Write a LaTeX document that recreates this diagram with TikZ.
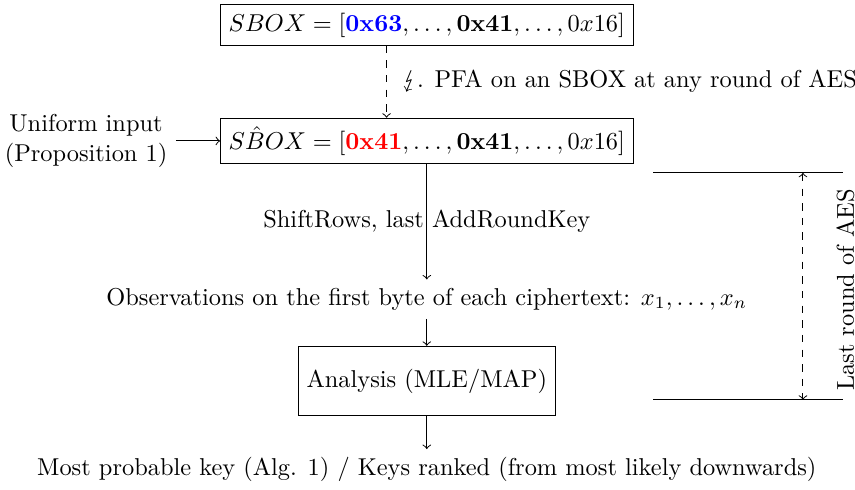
\documentclass[tikz,border=0pt]{standalone}
\usepackage{stmaryrd}
\usepackage{tikz}

\begin{document}
\begin{tikzpicture}
            \useasboundingbox (0,0) rectangle (12.32,-7.06);
            \node [draw] (sbox) at (6.15,-0.36) {$SBOX = [\textcolor{blue}{\mathbf{0x63}}, \ldots, \mathbf{0x41}, \ldots, 0x16]$};
            \node [draw] (hat) at (6.15,-2.03) {$S\hat{B}OX = [\textcolor{red}{\mathbf{0x41}}, \ldots, \mathbf{0x41}, \ldots, 0x16]$};
            \node [align=center] (input) at (1.24,-2.03) {Uniform input\\(Proposition 1)};
            \node (obs) at (6.15,-4.31) {Observations on the first byte of each ciphertext: $x_1, \ldots, x_n$};
            \node [draw, minimum height=1cm] (ana) at (6.15,-5.49) {Analysis (MLE/MAP)};
            \node (key) at (6.15,-6.77) {Most probable key (Alg. 1) / Keys ranked (from most likely downwards)};
            \coordinate (top1) at (9.41,-2.49);
            \coordinate (top2) at (12.15,-2.49);
            \coordinate (bot1) at (9.41,-5.76);
            \coordinate (bot2) at (12.15,-5.76);
            \coordinate (up) at (11.57,-2.49);
            \coordinate (down) at (11.57,-5.76);
            \node [rotate=90] (last) at (12.18,-4.18) {Last round of AES};
            \draw [->, dashed] ([xshift=-0.58cm]sbox.south) -- node [right, xshift=0.1cm] {$\lightning$. PFA on an SBOX at any round of AES} ([xshift=-0.58cm]hat.north);
            \path [draw, ->] (input) edge (hat);
            \path [draw, ->] (hat) edge node {ShiftRows, last AddRoundKey} (obs);
            \path [draw, ->] (obs) edge (ana);
            \path [draw, ->] (ana) edge (key);
            \path [draw] (top1) edge (top2);
            \path [draw] (bot1) edge (bot2);
            \draw [<->, dashed] (up) -- (down);
        \end{tikzpicture}
\end{document}
